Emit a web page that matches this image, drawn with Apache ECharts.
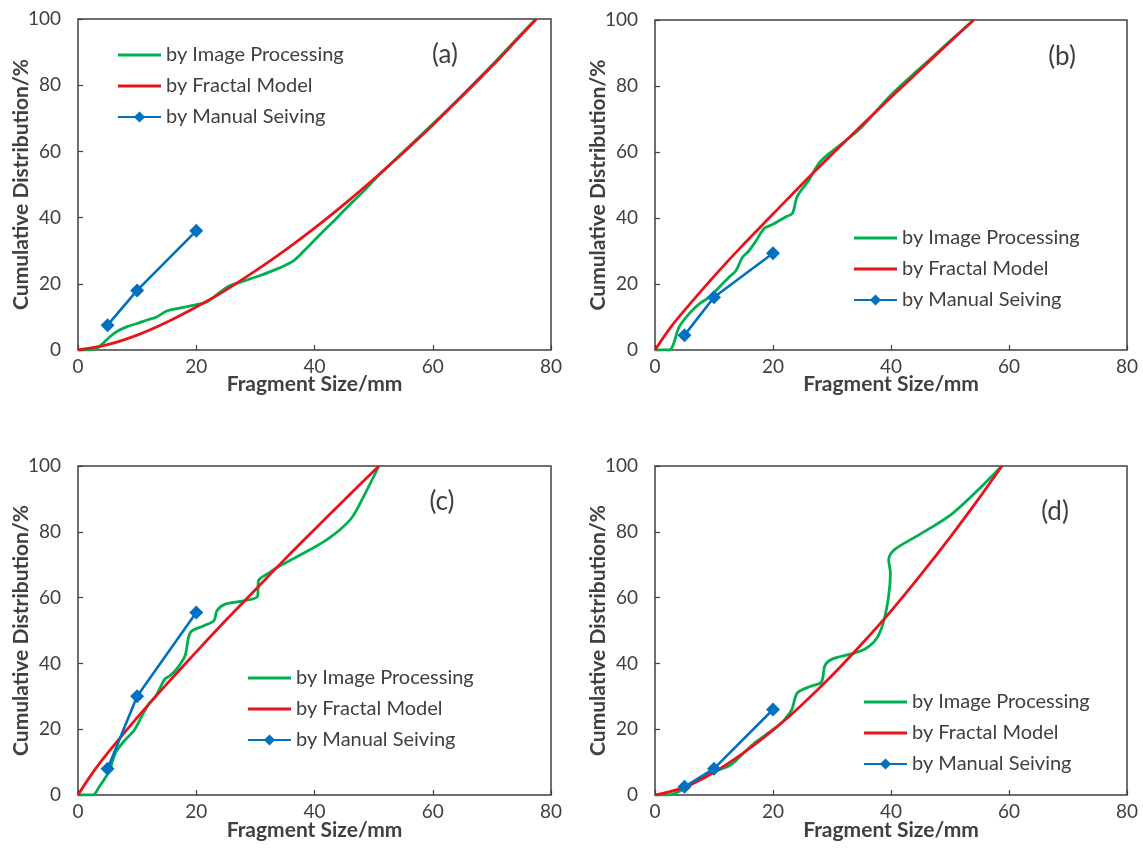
<!DOCTYPE html>
<html>
<head>
<meta charset="utf-8">
<script src="https://cdn.jsdelivr.net/npm/echarts@6/dist/echarts.min.js"></script>
<style>
  html, body { margin: 0; padding: 0; background: #fff; }
  #main { width: 1143px; height: 868px; }
</style>
</head>
<body>
<div id="main"></div>
<script>
// panel (a)
var imgA_x = [0, 2, 3.2, 4.5, 5.4, 6.5, 8.2, 10, 11.6, 13.3, 15, 16.7, 19.5, 21.8, 23, 25.2, 27.5, 30.8, 33.7, 36.5, 38.8, 41, 43, 45.2, 48.3, 51, 55, 60, 65, 70, 75, 77.5]
var imgA_y = [0, 0, 0.5, 2.5, 4, 5.5, 7, 8, 9, 10, 11.8, 12.5, 13.5, 14.5, 16, 19, 20.5, 22.5, 24.5, 27, 31, 35, 38.5, 42.5, 48, 53, 59.8, 68.3, 77, 86, 95.5, 100]
var fracA_x = [0, 5, 10, 15, 20, 25, 30, 35, 40, 45, 50, 55, 60, 65, 70, 75, 77.5]
var fracA_y = [0, 1.6, 4.5, 8.4, 13, 18.1, 23.9, 30.1, 36.8, 44, 51.6, 59.6, 68, 76.7, 85.7, 95.2, 100]
var manA_y = [7.5, 18, 36]

// panel (b)
var imgB_x = [0, 2.4, 4.1, 5.8, 7.5, 9.2, 10.6, 11.4, 12.5, 13.7, 14.8, 15.9, 17.1, 18.5, 19.9, 22.2, 23.3, 24.1, 26.1, 27.8, 29.5, 32, 35, 40, 45, 50, 54]
var imgB_y = [0, 0, 7, 11, 14, 16, 18.5, 20, 22, 24, 28, 30, 33, 36.8, 38, 40.4, 41.4, 46.5, 51.5, 56.6, 59.5, 63, 67.5, 77.3, 85.5, 93.6, 100]
var fracB_x = [0, 2.5, 5, 10, 15, 20, 25, 30, 35, 40, 45, 50, 54]
var fracB_y = [0, 6.5, 12, 22.3, 32, 41.2, 50.4, 59.3, 68, 76.6, 85, 93.4, 100]
var manB_y = [4.5, 16, 29.3]

// panel (c)
var imgC_x = [0, 2.5, 3.6, 5.2, 6.4, 7.9, 9.5, 11, 12, 13.2, 14.7, 15.6, 16.9, 18.1, 19, 21.2, 23, 23.5, 24.9, 28, 30.4, 30.5, 32.3, 34.1, 36.6, 39.7, 42.1, 44.3, 46.4, 48.3, 50.9]
var imgC_y = [0, 0, 2.5, 7, 13, 16.6, 19.7, 24.7, 27.7, 30.2, 35.3, 36.3, 38.8, 42.3, 49.4, 51.4, 53, 56, 58, 59, 60.5, 65, 67.5, 69.6, 72, 75, 77.6, 80.6, 84.5, 90.7, 100]
var fracC_x = [0, 2.5, 5, 10, 15, 20, 25, 30, 35, 40, 45, 50.9]
var fracC_y = [0, 6.8, 12.7, 23.5, 33.7, 43.5, 53.1, 62.4, 71.7, 80.7, 89.6, 100]
var manC_y = [8, 30, 55.5]

// panel (d)
var imgD_x = [0, 2.2, 4, 7.7, 9.9, 12.7, 14.6, 17, 20.1, 22, 23.2, 24.1, 26.3, 28.2, 28.8, 30, 33.1, 35.6, 37.5, 38.7, 39.6, 39.9, 39.6, 40.6, 44.3, 50.5, 58.8]
var imgD_y = [0, 0, 1, 5, 7, 9, 12, 16, 20, 23, 26, 31, 33, 34.3, 39.3, 41.3, 42.8, 44.4, 47.4, 52.4, 60.5, 67.5, 71.6, 74.6, 78.6, 85.7, 100]
var fracD_x = [0, 5, 10, 15, 20, 25, 30, 35, 40, 45, 50, 55, 58.8]
var fracD_y = [0, 2.4, 6.9, 12.8, 19.7, 27.6, 36.3, 45.8, 55.9, 66.8, 78.3, 90.4, 100]
var manD_y = [2.5, 8, 26]

var sieveSizes = [5, 10, 20]
var xTicks = [0, 20, 40, 60, 80]
var yTicks = [0, 20, 40, 60, 80, 100]
var panelLabels = ['(a)', '(b)', '(c)', '(d)']
var seriesNames = ['by Image Processing', 'by Fractal Model', 'by Manual Seiving']

var panels = [
  {img: [imgA_x, imgA_y], frac: [fracA_x, fracA_y], man: manA_y},
  {img: [imgB_x, imgB_y], frac: [fracB_x, fracB_y], man: manB_y},
  {img: [imgC_x, imgC_y], frac: [fracC_x, fracC_y], man: manC_y},
  {img: [imgD_x, imgD_y], frac: [fracD_x, fracD_y], man: manD_y}
]

var green = '#00B050', red = '#E8141B', blue = '#0070C0', ink = '#404040'
var font = 'Lato, "Open Sans", sans-serif'
// flat bar used as legend icon for the plain lines
var lineIcon = 'path://M0,0H43V3H0Z'

var grids = [
  {left: 78, top: 19, width: 473, height: 331},
  {left: 655, top: 20, width: 472, height: 330},
  {left: 78, top: 466, width: 473, height: 329},
  {left: 655, top: 466, width: 472, height: 329}
]
var legendPos = [
  {left: 117, top: 45},
  {left: 853, top: 228},
  {left: 247, top: 668},
  {left: 863, top: 692}
]
var labelPos = [[440, 53], [1057, 55], [437, 500], [1050, 510]]

function pairs (xs, ys) {
  return xs.map((x, i) => [x, ys[i]])
}

var option = {
  backgroundColor: '#fff',
  animation: false,
  textStyle: {fontFamily: font},
  title: [],
  legend: [],
  grid: [],
  xAxis: [],
  yAxis: [],
  series: []
}

panels.forEach((p, i) => {
  option.grid.push(Object.assign({
    show: true,
    borderColor: ink,
    borderWidth: 1.5,
    backgroundColor: 'transparent'
  }, grids[i]))

  option.xAxis.push({
    type: 'value',
    gridIndex: i,
    min: xTicks[0],
    max: xTicks[xTicks.length - 1],
    interval: 20,
    name: 'Fragment Size/mm',
    nameLocation: 'middle',
    nameMoveOverlap: false,
    nameGap: i < 2 ? 24 : 25,
    nameTextStyle: {fontFamily: font, fontSize: 21, fontWeight: 'bold', color: ink},
    axisLine: {show: false},
    axisTick: {show: true, inside: true, length: 5, lineStyle: {color: ink, width: 1.2}},
    axisLabel: {fontFamily: font, fontSize: 19, color: ink, margin: 7},
    splitLine: {show: false}
  })

  option.yAxis.push({
    type: 'value',
    gridIndex: i,
    min: yTicks[0],
    max: yTicks[yTicks.length - 1],
    interval: 20,
    name: 'Cumulative Distribution/%',
    nameLocation: 'middle',
    nameMoveOverlap: false,
    nameGap: 46,
    nameTextStyle: {fontFamily: font, fontSize: 21, fontWeight: 'bold', color: ink},
    axisLine: {show: false},
    axisTick: {show: true, inside: true, length: 5, lineStyle: {color: ink, width: 1.2}},
    axisLabel: {fontFamily: font, fontSize: 19, color: ink, margin: 17},
    splitLine: {show: false}
  })

  option.title.push({
    text: panelLabels[i],
    left: labelPos[i][0],
    top: labelPos[i][1] - 16,
    textAlign: 'center',
    textStyle: {fontFamily: font, fontSize: 26, fontWeight: 'normal', color: ink}
  })

  option.legend.push({
    orient: 'vertical',
    left: legendPos[i].left,
    top: legendPos[i].top,
    padding: 0,
    data: [
      {name: seriesNames[0], icon: lineIcon},
      {name: seriesNames[1], icon: lineIcon},
      {name: seriesNames[2]}
    ],
    itemWidth: 43,
    itemHeight: 14,
    itemGap: 11,
    selectedMode: false,
    textStyle: {fontFamily: font, fontSize: 20, color: ink, padding: [0, 0, 0, 0]}
  })

  option.series.push({
    name: seriesNames[0],
    type: 'line',
    xAxisIndex: i,
    yAxisIndex: i,
    symbol: 'none',
    smooth: 0.3,
    lineStyle: {color: green, width: 2.8},
    itemStyle: {color: green},
    data: pairs(p.img[0], p.img[1]),
    z: 2
  })
  option.series.push({
    name: seriesNames[1],
    type: 'line',
    xAxisIndex: i,
    yAxisIndex: i,
    symbol: 'none',
    smooth: 0.4,
    lineStyle: {color: red, width: 2.8},
    itemStyle: {color: red},
    data: pairs(p.frac[0], p.frac[1]),
    z: 3
  })
  option.series.push({
    name: seriesNames[2],
    type: 'line',
    xAxisIndex: i,
    yAxisIndex: i,
    symbol: 'diamond',
    symbolSize: 14,
    lineStyle: {color: blue, width: 2.6},
    itemStyle: {color: blue},
    data: pairs(sieveSizes, p.man),
    z: 4
  })
})

var chart = echarts.init(document.getElementById('main'))
chart.setOption(option)
</script>
</body>
</html>
